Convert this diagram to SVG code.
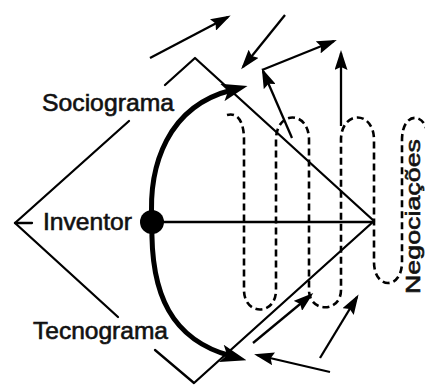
<svg xmlns="http://www.w3.org/2000/svg" width="425" height="385" viewBox="0 0 425 385">
<style>
.ln{fill:none;stroke:#000;stroke-width:2.3;stroke-linecap:round;stroke-linejoin:round}
.ar{fill:none;stroke:#000;stroke-width:2.3;stroke-linecap:butt;marker-end:url(#ah)}
.thick{fill:none;stroke:#000;stroke-width:5;marker-end:url(#big)}
.dash{fill:none;stroke:#000;stroke-width:2.6;stroke-dasharray:7 4}
.lbl{font-family:"Liberation Sans",Arial,sans-serif;font-size:24px;fill:#111;stroke:#111;stroke-width:0.6}
</style>
<defs>
<marker id="ah" viewBox="0 0 20 13" refX="17" refY="6.5" markerWidth="20" markerHeight="13" markerUnits="userSpaceOnUse" orient="auto">
<path d="M0,0 L20,6.5 L0,13 L3,6.5 z" fill="#000"/>
</marker>
<marker id="big" viewBox="0 0 26 18" refX="10" refY="9" markerWidth="26" markerHeight="18" markerUnits="userSpaceOnUse" orient="auto">
<path d="M0,0 L26,9 L0,18 L6,9 z" fill="#000"/>
</marker>
</defs>
<rect width="425" height="385" fill="#fff"/>
<g id="connectors">
<polyline class="ln" points="129,121 15,223 118,317"/>
<line class="ln" x1="15" y1="223" x2="32" y2="223"/>
<polyline class="ln" points="165,85 195,58 374,221 194,383 155,350"/>
<line class="ln" x1="152" y1="222" x2="374" y2="222"/>
<path class="thick" d="M152,222 C148,165 168,106 232,90"/>
<path class="thick" d="M152,222 C150,295 172,340 231,356"/>
<path class="dash" d="M227,115 C238,112 244,122 244,140 L244,290 C244,316 276,316 276,290 L276,140 C276,110 309,110 309,140 L309,290 C309,313 341,313 341,290 L341,140 C341,110 374,110 374,140 L374,262 C374,290 402,290 402,262 L402,140 C402,112 424,112 427,132"/>
<line class="ar" x1="150" y1="58" x2="228" y2="17"/>
<line class="ar" x1="285" y1="15" x2="243" y2="67"/>
<line class="ar" x1="292" y1="138" x2="263" y2="71"/>
<line class="ar" x1="262" y1="70" x2="334" y2="41"/>
<line class="ar" x1="341" y1="126" x2="341" y2="53"/>
<line class="ar" x1="320" y1="358" x2="357" y2="297"/>
<line class="ar" x1="330" y1="372" x2="257" y2="355"/>
<line class="ar" x1="253" y1="343" x2="311" y2="295"/>
</g>
<g id="inventor">
<circle cx="152" cy="222" r="12" fill="#000"/>
<text class="lbl" x="43" y="230" textLength="89" lengthAdjust="spacingAndGlyphs">Inventor</text>
</g>
<g id="sociograma">
<text class="lbl" x="42" y="111" textLength="132" lengthAdjust="spacingAndGlyphs">Sociograma</text>
</g>
<g id="tecnograma">
<text class="lbl" x="33" y="339" textLength="135" lengthAdjust="spacingAndGlyphs">Tecnograma</text>
</g>
<g id="negociacoes">
<text class="lbl" style="font-size:21px" transform="translate(420,294) rotate(-90)" textLength="155" lengthAdjust="spacingAndGlyphs">Negociações</text>
</g>
</svg>
